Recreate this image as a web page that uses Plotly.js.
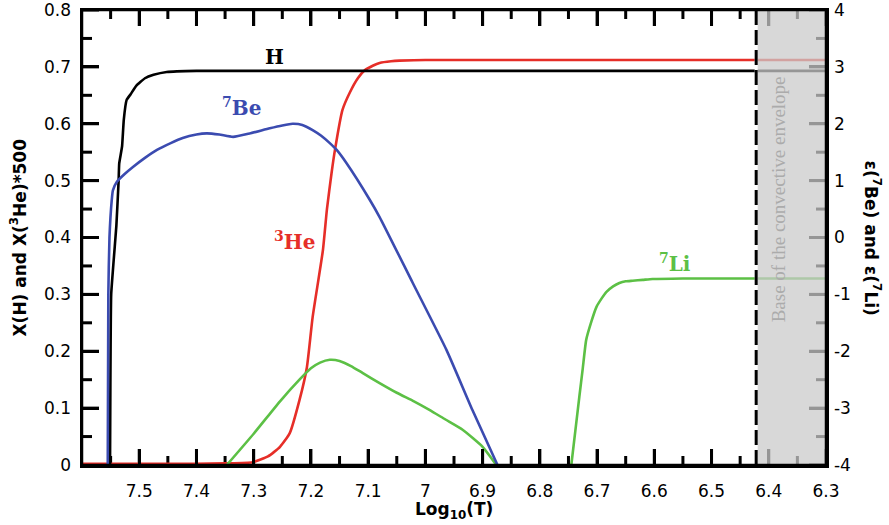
<!DOCTYPE html>
<html>
<head>
<meta charset="utf-8">
<script src="https://cdn.plot.ly/plotly-3.0.1.min.js"></script>
<style>html,body{margin:0;padding:0;background:#fff;}#chart{width:889px;height:525px;}</style>
</head>
<body>
<div id="chart"></div>
<script>
// Hydrogen mass fraction X(H) (left axis)
const hT = [7.551, 7.549, 7.540, 7.536, 7.535, 7.530, 7.527, 7.522, 7.515, 7.505, 7.490, 7.475, 7.452, 7.40, 6.30];
const hX = [0.000, 0.300, 0.420, 0.500, 0.530, 0.560, 0.607, 0.642, 0.652, 0.667, 0.680, 0.686, 0.691, 0.693, 0.693];

// X(3He)*500 (left axis)
const heT = [7.60, 7.40, 7.35, 7.302, 7.275, 7.254, 7.237, 7.220, 7.207, 7.197, 7.179, 7.172, 7.164, 7.158, 7.145, 7.132, 7.118, 7.106, 7.092, 7.080, 7.060, 7.045, 7.00, 6.30];
const heX = [0.002, 0.002, 0.003, 0.005, 0.015, 0.032, 0.056, 0.114, 0.172, 0.260, 0.378, 0.450, 0.513, 0.554, 0.624, 0.655, 0.680, 0.694, 0.702, 0.707, 0.710, 0.711, 0.712, 0.712];

// epsilon(7Be) (right axis)
const beT = [7.555, 7.554, 7.552, 7.548, 7.546, 7.539, 7.525, 7.511, 7.490, 7.469, 7.445, 7.424, 7.400, 7.382, 7.360, 7.336, 7.307, 7.272, 7.250, 7.232, 7.215, 7.197, 7.182, 7.167, 7.155, 7.138, 7.097, 7.080, 7.022, 6.963, 6.918, 6.874];
const beE = [-4.00, -1.00, 0.00, 0.66, 0.83, 0.98, 1.12, 1.24, 1.40, 1.54, 1.66, 1.75, 1.81, 1.83, 1.81, 1.77, 1.83, 1.92, 1.97, 2.00, 1.98, 1.89, 1.79, 1.66, 1.54, 1.31, 0.66, 0.36, -0.80, -1.98, -3.03, -4.00];

// epsilon(7Li) (right axis), two branches
const li1T = [7.347, 7.300, 7.254, 7.220, 7.200, 7.184, 7.167, 7.150, 7.130, 7.110, 7.080, 7.050, 7.020, 6.993, 6.965, 6.935, 6.900, 6.876];
const li1E = [-4.00, -3.45, -2.88, -2.50, -2.30, -2.20, -2.15, -2.17, -2.26, -2.38, -2.56, -2.73, -2.88, -3.03, -3.20, -3.38, -3.68, -4.00];
const li2T = [6.745, 6.738, 6.731, 6.725, 6.719, 6.710, 6.701, 6.692, 6.684, 6.672, 6.661, 6.650, 6.638, 6.620, 6.603, 6.55, 6.30];
const li2E = [-4.00, -3.40, -2.80, -2.30, -1.80, -1.48, -1.22, -1.07, -0.96, -0.86, -0.80, -0.77, -0.76, -0.745, -0.73, -0.72, -0.72];

// Axis ticks
const xTicks = [7.5, 7.4, 7.3, 7.2, 7.1, 7.0, 6.9, 6.8, 6.7, 6.6, 6.5, 6.4, 6.3];
const xTickText = ['7.5', '7.4', '7.3', '7.2', '7.1', '7', '6.9', '6.8', '6.7', '6.6', '6.5', '6.4', '6.3'];
const xMinor = [7.55, 7.45, 7.35, 7.25, 7.15, 7.05, 6.95, 6.85, 6.75, 6.65, 6.55, 6.45, 6.35];
const yTicks = [0, 0.1, 0.2, 0.3, 0.4, 0.5, 0.6, 0.7, 0.8];
const yTickText = ['0', '0.1', '0.2', '0.3', '0.4', '0.5', '0.6', '0.7', '0.8'];
const yMinor = [0.05, 0.15, 0.25, 0.35, 0.45, 0.55, 0.65, 0.75];
const y2Ticks = [-4, -3, -2, -1, 0, 1, 2, 3, 4];
const y2TickText = ['-4', '-3', '-2', '-1', '0', '1', '2', '3', '4'];
const y2Minor = [-3.5, -2.5, -1.5, -0.5, 0.5, 1.5, 2.5, 3.5];

const xRange = [7.6, 6.3];
const yRange = [0, 0.8];
const y2Range = [-4, 4];
const convBase = 6.422;

const black = '#000000', blue = '#3b4bb0', red = '#e62e28', green = '#5cc045';
const lw = 2.6;
const tkW = 3;

// plot-area size (889-82-63 by 525-10-60) to turn pixel tick lengths into axis units
const plotW = 744, plotH = 455;
const pxX = (xRange[0] - xRange[1]) / plotW;
const pxY = (yRange[1] - yRange[0]) / plotH;

// tick marks as line segments through the axes' own scales
const tkX = [], tkY = [];
function addX(v, len) {
  tkX.push(v, v, null, v, v, null);
  tkY.push(yRange[0], yRange[0] + len * pxY, null, yRange[1], yRange[1] - len * pxY, null);
}
xTicks.forEach(v => addX(v, 16));
xMinor.forEach(v => addX(v, 9));
yTicks.forEach(v => { tkX.push(xRange[0], xRange[0] - 17 * pxX, null); tkY.push(v, v, null); });
yMinor.forEach(v => { tkX.push(xRange[0], xRange[0] - 10 * pxX, null); tkY.push(v, v, null); });
const tk2X = [], tk2Y = [];
y2Ticks.forEach(v => { tk2X.push(xRange[1], xRange[1] + 17 * pxX, null); tk2Y.push(v, v, null); });
y2Minor.forEach(v => { tk2X.push(xRange[1], xRange[1] + 10 * pxX, null); tk2Y.push(v, v, null); });

const traces = [
  {x: tkX, y: tkY, mode: 'lines', line: {color: '#000', width: tkW}, yaxis: 'y', hoverinfo: 'skip', cliponaxis: false, connectgaps: false},
  {x: tk2X, y: tk2Y, mode: 'lines', line: {color: '#000', width: tkW}, yaxis: 'y2', hoverinfo: 'skip', cliponaxis: false, connectgaps: false},
  {x: heT, y: heX, mode: 'lines', line: {color: red, width: lw, shape: 'spline', smoothing: 0.5}, yaxis: 'y', hoverinfo: 'skip'},
  {x: li1T, y: li1E, mode: 'lines', line: {color: green, width: lw, shape: 'spline', smoothing: 0.5}, yaxis: 'y2', hoverinfo: 'skip'},
  {x: li2T, y: li2E, mode: 'lines', line: {color: green, width: lw, shape: 'spline', smoothing: 0.5}, yaxis: 'y2', hoverinfo: 'skip'},
  {x: beT, y: beE, mode: 'lines', line: {color: blue, width: lw, shape: 'spline', smoothing: 0.5}, yaxis: 'y2', hoverinfo: 'skip'},
  {x: hT, y: hX, mode: 'lines', line: {color: black, width: lw, shape: 'spline', smoothing: 0.3}, yaxis: 'y', hoverinfo: 'skip'}
];

const tickFont = {family: 'DejaVu Sans', size: 17, color: '#000'};
const titleFont = {family: 'DejaVu Sans', size: 17, color: '#000'};
const labFont = (c) => ({family: 'DejaVu Serif', size: 20, color: c});

const layout = {
  width: 889, height: 525,
  margin: {l: 82, r: 63, t: 10, b: 60},
  paper_bgcolor: '#fff', plot_bgcolor: '#fff',
  showlegend: false,
  xaxis: {
    range: xRange, tickmode: 'array', tickvals: xTicks, ticktext: xTickText,
    ticks: 'inside', ticklen: 16, tickwidth: tkW, tickcolor: '#000',
    mirror: 'ticks', showline: true, linecolor: '#000', linewidth: 2.5,
    showgrid: false, zeroline: false, tickfont: tickFont,
    ticklabelstandoff: 9, ticklabeloverflow: 'allow'
  },
  yaxis: {
    range: yRange, tickmode: 'array', tickvals: yTicks, ticktext: yTickText,
    ticks: 'inside', ticklen: 17, tickwidth: tkW, tickcolor: '#000',
    showline: true, linecolor: '#000', linewidth: 2.5,
    showgrid: false, zeroline: false, tickfont: tickFont,
    ticklabelstandoff: 5, ticklabeloverflow: 'allow'
  },
  yaxis2: {
    range: y2Range, overlaying: 'y', side: 'right', tickmode: 'array', tickvals: y2Ticks, ticktext: y2TickText,
    ticks: 'inside', ticklen: 17, tickwidth: tkW, tickcolor: '#000',
    showline: true, linecolor: '#000', linewidth: 2.5,
    showgrid: false, zeroline: false, tickfont: tickFont,
    ticklabelstandoff: 2, ticklabeloverflow: 'allow'
  },
  shapes: [
    {type: 'rect', layer: 'above', xref: 'x', yref: 'paper', x0: convBase, x1: 6.3, y0: 0, y1: 1,
     fillcolor: 'rgba(203,203,203,0.74)', line: {width: 0}},
    {type: 'line', layer: 'above', xref: 'x', yref: 'paper', x0: convBase, x1: convBase, y0: 0, y1: 1,
     line: {color: '#fff', width: 3}},
    {type: 'line', layer: 'above', xref: 'x', yref: 'paper', x0: convBase, x1: convBase, y0: 0, y1: 1,
     line: {color: '#000', width: 3, dash: '15px,5px'}},
    {type: 'line', layer: 'above', xref: 'paper', yref: 'paper', x0: 0, x1: 1, y0: 1, y1: 1, line: {color: '#000', width: 2.5}},
    {type: 'line', layer: 'above', xref: 'paper', yref: 'paper', x0: 0, x1: 1, y0: 0, y1: 0, line: {color: '#000', width: 2.5}},
    {type: 'line', layer: 'above', xref: 'paper', yref: 'paper', x0: 1, x1: 1, y0: 0, y1: 1, line: {color: '#000', width: 2.5}},
    {type: 'line', layer: 'above', xref: 'paper', yref: 'paper', x0: 0, x1: 0, y0: 0, y1: 1, line: {color: '#000', width: 2.5}}
  ],
  annotations: [
    {xref: 'paper', yref: 'paper', x: 0, y: 0.5, xshift: -64, text: '<b>X(H) and X(<sup>3</sup>He)*500</b>', textangle: -90,
     showarrow: false, font: titleFont, xanchor: 'center', yanchor: 'middle'},
    {xref: 'paper', yref: 'paper', x: 1, y: 0.5, xshift: 47, text: '<b>ε(<sup>7</sup>Be) and ε(<sup>7</sup>Li)</b>', textangle: 90,
     showarrow: false, font: titleFont, xanchor: 'center', yanchor: 'middle'},
    {xref: 'paper', yref: 'paper', x: 0.5, y: 0, yshift: -45, text: '<b>Log<sub>10</sub>(T)</b>',
     showarrow: false, font: titleFont, xanchor: 'center', yanchor: 'middle'},
    {xref: 'x', yref: 'y', x: 7.263, y: 0.717, text: '<b>H</b>', showarrow: false, font: labFont(black)},
    {xref: 'x', yref: 'y', x: 7.321, y: 0.629, text: '<b><sup>7</sup>Be</b>', showarrow: false, font: labFont(blue)},
    {xref: 'x', yref: 'y', x: 7.228, y: 0.394, text: '<b><sup>3</sup>He</b>', showarrow: false, font: labFont(red)},
    {xref: 'x', yref: 'y', x: 6.563, y: 0.355, text: '<b><sup>7</sup>Li</b>', showarrow: false, font: labFont(green)},
    {xref: 'x', yref: 'y', x: 6.384, y: 0.467, text: 'Base of the convective envelope', textangle: -90, showarrow: false,
     font: {family: 'Liberation Serif', size: 19, color: '#ababab'}}
  ]
};

Plotly.newPlot('chart', traces, layout, {staticPlot: true, displayModeBar: false});
</script>
</body>
</html>
